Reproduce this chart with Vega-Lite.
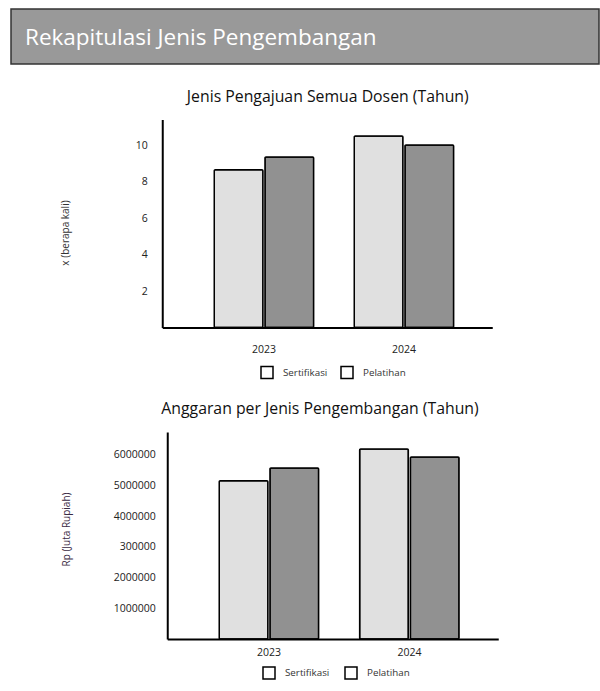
{
  "$schema": "https://vega.github.io/schema/vega-lite/v6.json",
  "padding": {"left": 10, "top": 8, "right": 0, "bottom": 0},
  "background": "white",
  "datasets": {
    "jumlah": [
      {"tahun": "2023", "jenis": "Sertifikasi", "nilai": 8.65},
      {"tahun": "2023", "jenis": "Pelatihan", "nilai": 9.35},
      {"tahun": "2024", "jenis": "Sertifikasi", "nilai": 10.5},
      {"tahun": "2024", "jenis": "Pelatihan", "nilai": 10.0}
    ],
    "anggaran": [
      {"tahun": "2023", "jenis": "Sertifikasi", "nilai": 5150000},
      {"tahun": "2023", "jenis": "Pelatihan", "nilai": 5570000},
      {"tahun": "2024", "jenis": "Sertifikasi", "nilai": 6190000},
      {"tahun": "2024", "jenis": "Pelatihan", "nilai": 5930000}
    ],
    "header": [{"judul": ""}]
  },
  "spacing": 18.5,
  "resolve": {"scale": {"color": "independent", "opacity": "independent"}, "legend": {"color": "independent", "opacity": "independent"}},
  "vconcat": [
    {
      "width": 588,
      "height": 55,
      "view": {"fill": "#999999", "stroke": "#333333", "strokeWidth": 1.5},
      "title": {"text": "Rekapitulasi Jenis Pengembangan", "anchor": "start", "offset": -51, "baseline": "middle", "dx": 14, "fontSize": 22.5, "color": "white", "fontWeight": "normal"},
      "data": {"name": "header"},
      "mark": {"type": "text"},
      "encoding": {"text": {"field": "judul"}}
    },
    {
      "width": 482,
      "height": 208,
      "data": {"name": "jumlah"},
      "title": {"text": ["", "Jenis Pengajuan Semua Dosen (Tahun)"], "lineHeight": 5, "offset": 14, "dx": 75.75},
      "mark": {"type": "bar", "stroke": "black", "strokeWidth": 1.5, "cornerRadius": 1},
      "encoding": {
        "x": {"field": "tahun", "type": "nominal", "scale": {"range": [151.25, 481.25], "paddingInner": 0.29, "paddingOuter": 0.3236, "align": 0.574},
              "axis": {"title": null, "labelAngle": 0, "ticks": false, "labelPadding": 17}},
        "xOffset": {"field": "jenis", "sort": ["Sertifikasi", "Pelatihan"], "scale": {"paddingInner": 0.04}},
        "y": {"field": "nilai", "type": "quantitative", "scale": {"domain": [0, 11.4], "nice": false},
              "axis": {"title": "x (berapa kali)", "values": [2, 4, 6, 8, 10], "offset": -151.25, "ticks": false, "labelPadding": 15, "titleX": -97, "titleY": 113, "titleBaseline": "middle"}},
        "color": {"field": "jenis", "type": "nominal", "sort": ["Sertifikasi", "Pelatihan"], "scale": {"range": ["#e0e0e0", "#919191"]}, "legend": null},
        "opacity": {"field": "jenis", "type": "nominal", "sort": ["Sertifikasi", "Pelatihan"], "scale": {"range": [1, 1]},
                  "legend": {"title": null, "orient": "none", "direction": "horizontal", "legendX": 249, "legendY": 246, "padding": 0, "symbolType": "square", "symbolSize": 144, "symbolFillColor": "white", "symbolStrokeColor": "black", "symbolStrokeWidth": 1.5, "labelOffset": 9, "columnPadding": 10}}
      }
    },
    {
      "width": 488,
      "height": 207,
      "data": {"name": "anggaran"},
      "title": {"text": "Anggaran per Jenis Pengembangan (Tahun)", "offset": 14.5, "dx": 65},
      "mark": {"type": "bar", "stroke": "black", "strokeWidth": 1.5, "cornerRadius": 1},
      "encoding": {
        "x": {"field": "tahun", "type": "nominal", "scale": {"range": [156.25, 487.25], "paddingInner": 0.29, "paddingOuter": 0.3236, "align": 0.572},
              "axis": {"title": null, "labelAngle": 0, "ticks": false, "labelPadding": 8, "labelDx": 6}},
        "xOffset": {"field": "jenis", "sort": ["Sertifikasi", "Pelatihan"], "scale": {"paddingInner": 0.04}},
        "y": {"field": "nilai", "type": "quantitative", "scale": {"domain": [0, 6740000], "nice": false},
              "axis": {"title": "Rp (Juta Rupiah)", "values": [1000000, 2000000, 3000000, 4000000, 5000000, 6000000],
                       "labelExpr": "datum.value == 3000000 ? '300000' : format(datum.value, 'd')",
                       "offset": -156.25, "ticks": false, "labelPadding": 12, "titleX": -101, "titleY": 97, "titleBaseline": "middle", "titleColor": "#3a2a44"}},
        "color": {"field": "jenis", "type": "nominal", "sort": ["Sertifikasi", "Pelatihan"], "scale": {"range": ["#e0e0e0", "#919191"]}, "legend": null},
        "opacity": {"field": "jenis", "type": "nominal", "sort": ["Sertifikasi", "Pelatihan"], "scale": {"range": [1, 1]},
                  "legend": {"title": null, "orient": "none", "direction": "horizontal", "legendX": 251, "legendY": 234, "padding": 0, "symbolType": "square", "symbolSize": 144, "symbolFillColor": "white", "symbolStrokeColor": "black", "symbolStrokeWidth": 1.5, "labelOffset": 9, "columnPadding": 12}}
      }
    }
  ],
  "config": {
    "font": "Open Sans",
    "view": {"stroke": null},
    "axis": {"labelFont": "Open Sans", "labelFontSize": 10.5, "labelColor": "#222222", "titleFont": "Open Sans", "titleFontSize": 10, "titleFontWeight": "normal", "titleColor": "#333333", "domainColor": "black", "domainWidth": 2, "grid": false},
    "legend": {"labelFont": "Open Sans", "labelFontSize": 9.8, "labelColor": "#333333"},
    "title": {"font": "Open Sans", "fontWeight": "normal", "fontSize": 15.8, "color": "#111111"}
  }
}
